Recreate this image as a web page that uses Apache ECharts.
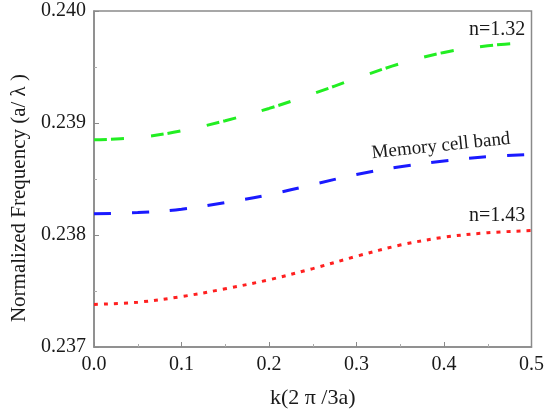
<!DOCTYPE html>
<html>
<head>
<meta charset="utf-8">
<script src="https://cdn.jsdelivr.net/npm/echarts@6/dist/echarts.min.js"></script>
<style>
html,body{margin:0;padding:0;background:#fff;}
#chart{width:547px;height:414px;}
</style>
</head>
<body>
<div id="chart"></div>
<script>
// Wave vector samples k (units of 2π/3a)
const kValues = [0, 0.05, 0.1, 0.15, 0.2, 0.25, 0.3, 0.35, 0.4, 0.45, 0.5];
// Normalized frequency a/λ for each band
const bandN132 = [0.23885, 0.23887, 0.23893, 0.23902, 0.23913, 0.23926, 0.23940, 0.23953, 0.23963, 0.23969, 0.23972];
const bandMemory = [0.23819, 0.23820, 0.23823, 0.23829, 0.23836, 0.23845, 0.23854, 0.23861, 0.23866, 0.23870, 0.23872];
const bandN143 = [0.23738, 0.23740, 0.23745, 0.23752, 0.23760, 0.23770, 0.23781, 0.23791, 0.23798, 0.23802, 0.23804];
const yTicks = [0.237, 0.238, 0.239, 0.240];
const xTicks = [0, 0.1, 0.2, 0.3, 0.4, 0.5];

const FONT = '"Liberation Serif", "DejaVu Serif", serif';
const pairs = arr => kValues.map((k, i) => [k, arr[i]]);

const chart = echarts.init(document.getElementById('chart'));
chart.setOption({
  animation: false,
  backgroundColor: '#fff',
  grid: { left: 94, right: 8, top: 11, bottom: 64, show: true, borderColor: '#8a8a8a', borderWidth: 1.5 },
  xAxis: {
    type: 'value',
    min: xTicks[0], max: xTicks[xTicks.length - 1], interval: 0.1,
    name: 'k(2 π /3a)', nameLocation: 'middle', nameGap: 40,
    nameTextStyle: { fontFamily: FONT, fontSize: 22, color: '#1a1a1a' },
    axisLine: { lineStyle: { color: '#8a8a8a', width: 1.5 } },
    axisTick: { inside: true, length: 5, lineStyle: { color: '#8a8a8a' } },
    minorTick: { show: true, splitNumber: 2, length: 3, lineStyle: { color: '#aaa' } },
    splitLine: { show: false },
    axisLabel: { fontFamily: FONT, fontSize: 20, color: '#1a1a1a', margin: 8, formatter: v => v.toFixed(1) }
  },
  yAxis: {
    type: 'value',
    min: yTicks[0], max: yTicks[yTicks.length - 1], interval: 0.001,
    name: 'Normalized Frequency (a/ λ )', nameLocation: 'middle', nameGap: 60,
    nameTextStyle: { fontFamily: FONT, fontSize: 21, color: '#1a1a1a', padding: [0, 38, 0, 0] },
    axisLine: { lineStyle: { color: '#8a8a8a', width: 1.5 } },
    axisTick: { inside: true, length: 5, lineStyle: { color: '#8a8a8a' } },
    minorTick: { show: true, splitNumber: 2, length: 3, lineStyle: { color: '#aaa' } },
    splitLine: { show: false },
    axisLabel: { fontFamily: FONT, fontSize: 20, color: '#1a1a1a', margin: 8, formatter: v => v.toFixed(3) }
  },
  series: [
    {
      name: 'n=1.32', type: 'line', smooth: 0.35, symbol: 'none', data: pairs(bandN132),
      lineStyle: { color: '#22ee22', width: 3, type: [13, 4, 13, 27] }
    },
    {
      name: 'Memory cell band', type: 'line', smooth: 0.35, symbol: 'none', data: pairs(bandMemory),
      lineStyle: { color: '#1a1aff', width: 3, type: [17, 21] }
    },
    {
      name: 'n=1.43', type: 'line', smooth: 0.35, symbol: 'none', data: pairs(bandN143),
      lineStyle: { color: '#ff2020', width: 3, type: [4, 6] }
    }
  ],
  graphic: [
    { type: 'text', left: 469, top: 20, style: { text: 'n=1.32', font: '20px ' + FONT, fill: '#1a1a1a' } },
    { type: 'text', left: 469, top: 206, style: { text: 'n=1.43', font: '20px ' + FONT, fill: '#1a1a1a' } },
    { type: 'text', x: 441, y: 146, rotation: 6 * Math.PI / 180,
      style: { text: 'Memory cell band', font: '19px ' + FONT, fill: '#1a1a1a', align: 'center', verticalAlign: 'middle' } }
  ]
});
</script>
</body>
</html>
